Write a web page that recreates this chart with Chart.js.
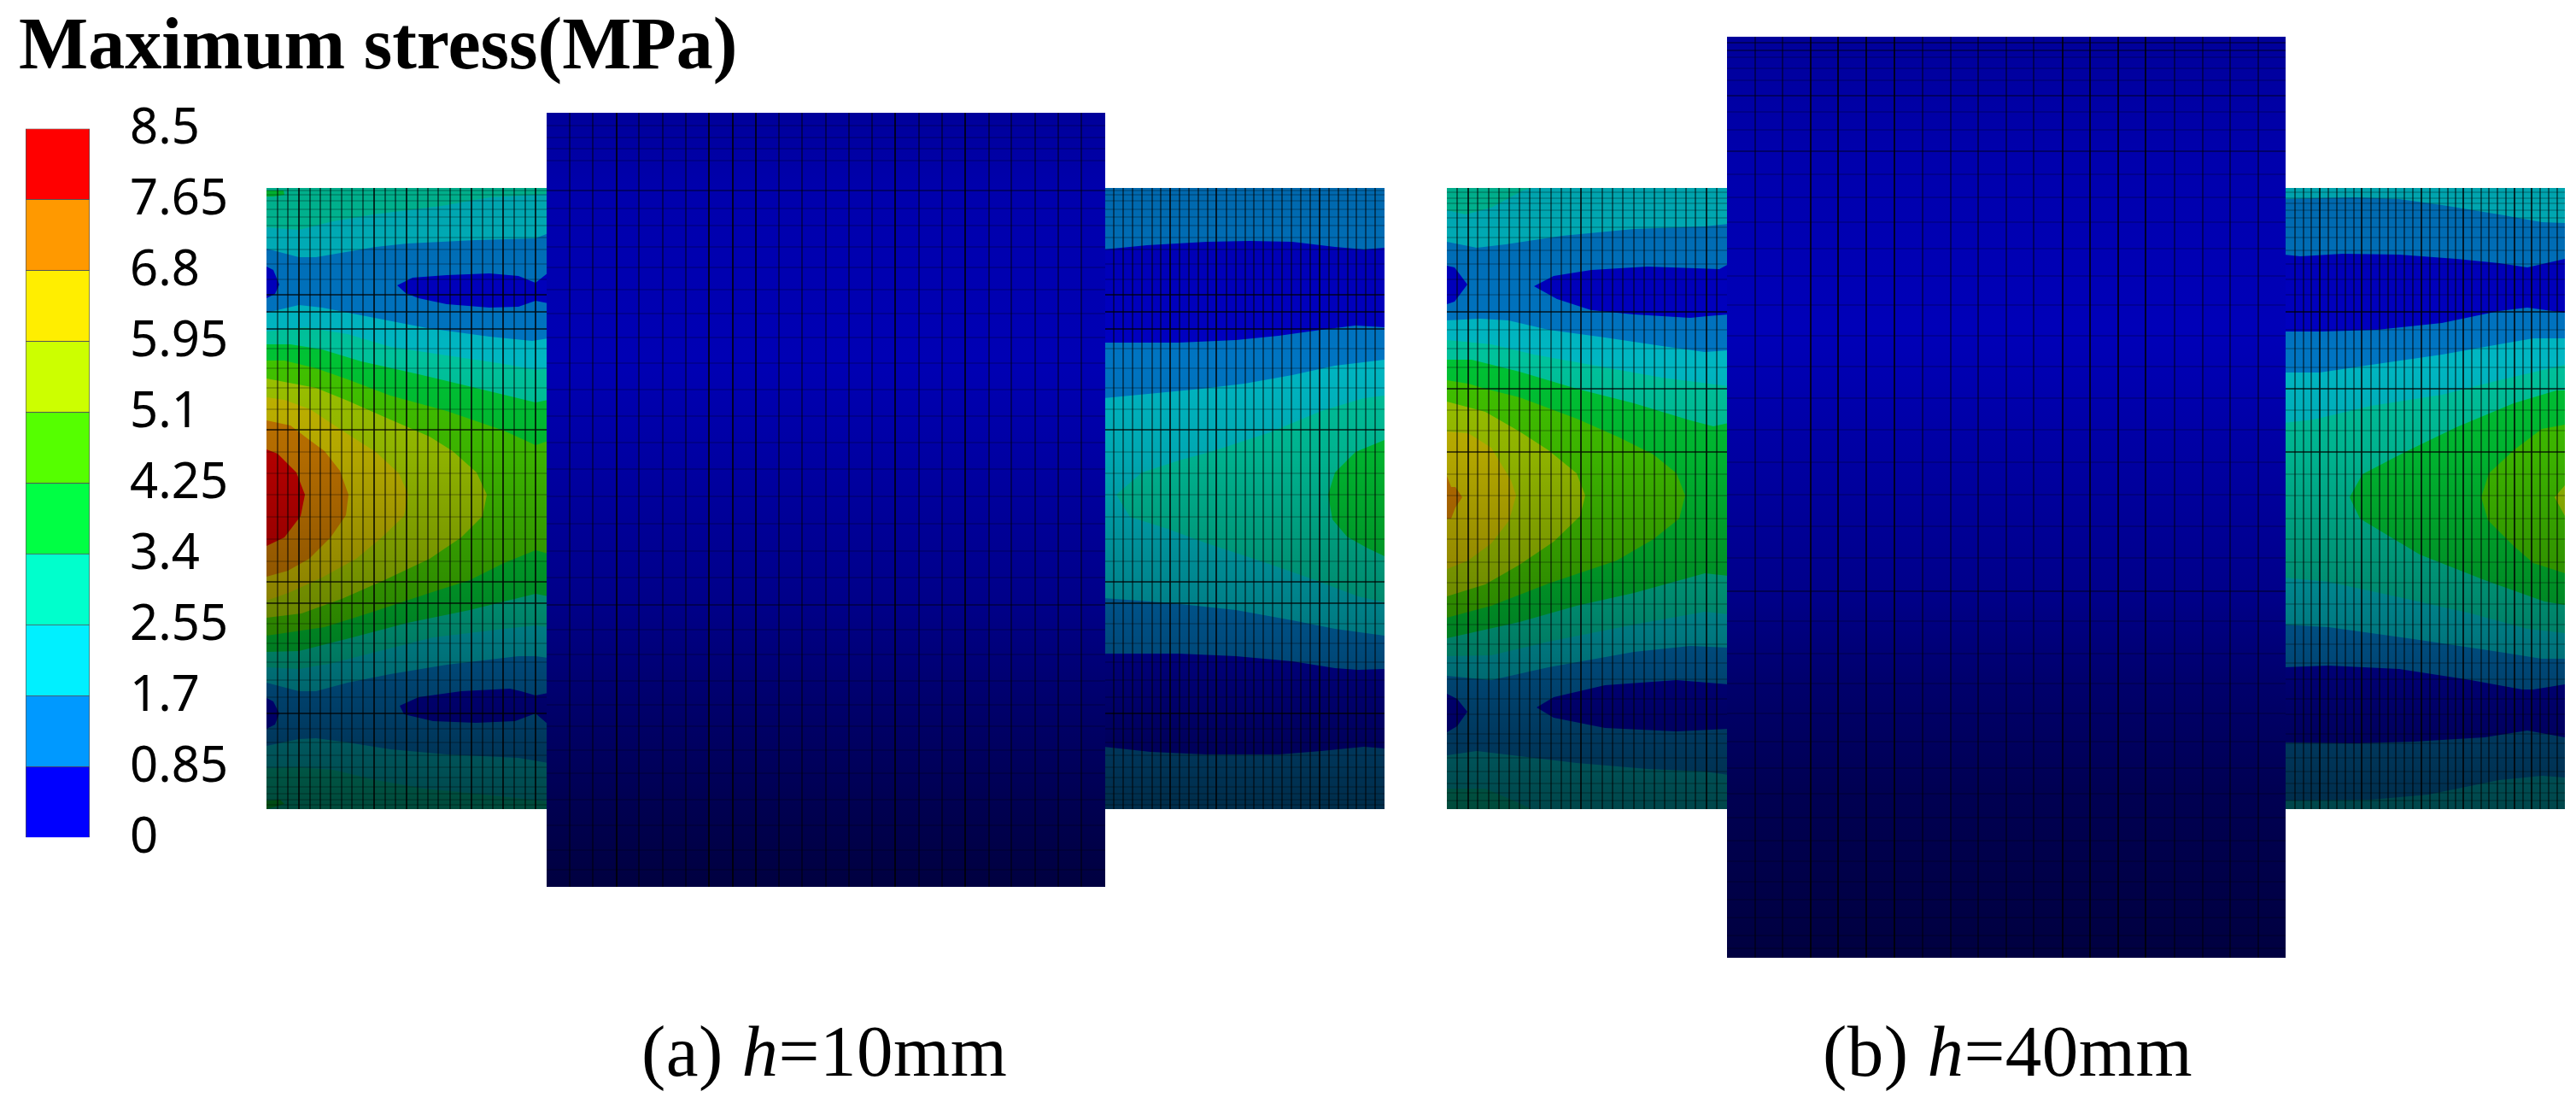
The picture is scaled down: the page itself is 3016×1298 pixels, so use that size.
<!DOCTYPE html>
<html lang="en">
  <head>
    <meta charset="UTF-8" />
    <title>Maximum stress</title>
    <style>
      html, body { margin: 0; padding: 0; background: #fff; width: 3016px; height: 1298px; overflow: hidden; }
      canvas { position: absolute; }
      .txt { position: absolute; font-family: "Liberation Serif", serif; color: #000; white-space: nowrap; line-height: 1; }
    </style>
  </head>
  <body>
    <div class="txt" style="left: 22px; top: 8px; font-size: 86px; font-weight: bold">Maximum stress(MPa)</div>
    <canvas id="legend" width="340" height="950" style="left: 0; top: 100px"></canvas>
    <canvas id="panelA" width="1309" height="906" style="left: 312px; top: 132px"></canvas>
    <canvas id="panelB" width="1309" height="1078" style="left: 1694px; top: 43px"></canvas>
    <div class="txt" style="left: 751px; top: 1188px; font-size: 85px; letter-spacing: 0.5px">(a) <i>h</i>=10mm</div>
    <div class="txt" style="left: 2134px; top: 1188px; font-size: 85px; letter-spacing: 0.5px">(b) <i>h</i>=40mm</div>
    <script src="https://cdn.jsdelivr.net/npm/chart.js"></script>
    <script>
      // colour scale, bottom to top
      const stressTicks = [0, 0.85, 1.7, 2.55, 3.4, 4.25, 5.1, 5.95, 6.8, 7.65, 8.5];
      const bandSizes = [0.85, 0.85, 0.85, 0.85, 0.85, 0.85, 0.85, 0.85, 0.85, 0.85];
      const bandColors = ["#0000ff", "#0099ff", "#00f0ff", "#00ffcc", "#00ff44", "#55ff00", "#ccff00", "#ffee00", "#ff9900", "#ff0000"];

      // panel coordinates: x along the shaft 0..1309, y down the shaft 0..727
      const baseLeft = [[0,0],[330,0],[330,727],[0,727]];
      const baseRight = [[980,0],[1309,0],[1309,727],[980,727]];

      // (a) left of the flange, contour lines top to bottom
      const aL1 = [[0,46],[38,49],[78,39],[125,31],[205,21],[261,11],[330,7]];
      const aL2 = [[0,71],[38,81],[58,81],[128,69],[165,65],[245,61],[315,59],[330,53]];
      const aL3 = [[0,146],[38,137],[65,140],[111,149],[188,164],[261,174],[311,179],[330,176]];
      const aL4 = [[0,168],[45,163],[95,171],[145,186],[211,196],[278,206],[315,213],[330,211]];
      const aL5 = [[0,183],[28,183],[65,189],[111,203],[178,218],[245,234],[315,251],[330,248]];
      const aL6 = [[0,202],[21,202],[58,211],[95,224],[145,243],[211,261],[278,284],[315,301],[330,296]];
      const aL7 = [[0,524],[68,514],[125,496],[191,474],[238,459],[278,439],[315,424],[330,428]];
      const aL8 = [[0,543],[38,542],[101,526],[165,509],[238,494],[278,484],[315,475],[330,478]];
      const aL9 = [[0,561],[38,563],[78,556],[128,543],[195,526],[278,516],[315,512],[330,514]];
      const aL10 = [[0,579],[38,589],[58,589],[95,579],[145,569],[211,558],[295,548],[315,548],[330,550]];
      const aL11 = [[0,653],[38,645],[58,644],[95,649],[145,657],[211,663],[295,667],[330,673]];
      const aL12 = [[0,679],[38,678],[78,681],[128,693],[185,703],[245,709],[330,718]];
      const aYGreen = [[0,223],[58,234],[95,249],[138,268],[191,291],[218,308],[246,333],[258,359],[253,384],[228,409],[191,434],[138,459],[88,481],[41,498],[0,503]];
      const aYellow = [[0,245],[21,248],[51,259],[95,288],[128,309],[155,334],[166,359],[161,384],[135,409],[105,434],[65,456],[28,473],[0,483]];
      const aOrange = [[0,272],[28,278],[45,291],[68,308],[86,331],[96,359],[93,383],[75,409],[50,434],[25,448],[0,455]];
      const aRed = [[0,306],[13,311],[35,333],[45,359],[40,384],[21,409],[0,419]];
      const aIsl1 = [[0,92],[8,96],[15,113],[10,124],[0,129]];
      const aBig1 = [[153,114],[171,105],[211,102],[261,100],[295,103],[315,111],[330,99],[330,135],[315,132],[295,139],[261,140],[211,136],[178,129],[163,123]];
      const aIsl2 = [[0,597],[8,601],[15,615],[10,628],[0,633]];
      const aBig2 = [[156,606],[178,596],[228,589],[285,586],[298,589],[315,594],[330,591],[330,628],[315,615],[291,624],[245,626],[195,624],[161,616]];
      const aGreenTop = [[0,3],[20,3],[21,8],[8,10],[0,10]];
      const aGreenBot = [[0,717],[16,716],[21,721],[11,724],[0,727]];

      // (a) right of the flange
      const aR1 = [[980,72],[1031,67],[1101,63],[1151,62],[1201,63],[1251,69],[1285,72],[1309,70]];
      const aR2 = [[980,181],[1068,181],[1135,178],[1185,173],[1235,166],[1275,161],[1309,163]];
      const aR3 = [[980,246],[1095,235],[1145,229],[1201,219],[1251,208],[1309,201]];
      const aRTeal = [[995,359],[1025,333],[1068,319],[1108,308],[1175,286],[1235,261],[1285,246],[1309,243],[1309,485],[1278,478],[1228,459],[1168,438],[1101,416],[1055,399],[1011,385]];
      const aRGreen = [[1243,359],[1251,333],[1275,309],[1309,295],[1309,431],[1288,421],[1265,408],[1248,388]];
      const aR4 = [[980,480],[1061,486],[1135,494],[1201,506],[1251,516],[1309,524]];
      const aR5 = [[980,545],[1068,545],[1135,548],[1201,554],[1251,562],[1278,564],[1309,563]];
      const aR6 = [[980,654],[1035,660],[1101,663],[1185,663],[1235,659],[1285,654],[1309,656]];

      // (b) left of the flange
      const bTealTop = [[0,0],[100,0],[89,3],[52,23],[22,31],[0,26]];
      const bL1 = [[0,63],[35,70],[69,66],[135,56],[219,48],[302,45],[330,42]];
      const bL2 = [[0,155],[39,153],[72,155],[119,166],[185,175],[252,185],[302,192],[330,190]];
      const bL3 = [[0,178],[52,183],[102,195],[185,210],[252,222],[330,232]];
      const bL4 = [[0,201],[29,201],[85,215],[152,235],[219,252],[285,272],[312,279],[330,275]];
      const bLime = [[0,225],[25,229],[45,235],[85,245],[152,270],[202,292],[242,312],[269,334],[279,360],[272,387],[242,411],[199,436],[119,463],[52,489],[0,503]];
      const bL5 = [[0,527],[85,508],[152,489],[219,474],[302,451],[330,454]];
      const bL6 = [[0,548],[52,547],[119,531],[219,511],[302,496],[330,499]];
      const bL7 = [[0,571],[52,576],[119,561],[219,543],[285,536],[330,538]];
      const bL8 = [[0,664],[35,659],[85,665],[152,673],[235,680],[302,683],[330,687]];
      const bL9 = [[0,703],[45,703],[85,720],[99,727]];
      const bYGreen = [[0,250],[45,262],[85,285],[119,307],[152,334],[162,360],[156,384],[125,414],[85,441],[45,464],[0,478]];
      const bYellow = [[0,285],[25,287],[52,304],[75,342],[81,360],[73,389],[52,416],[25,436],[0,446]];
      const bOrange = [[0,337],[5,350],[10,350],[18,362],[10,374],[5,387],[0,387]];
      const bIsl1 = [[0,91],[9,93],[24,113],[9,133],[0,136]];
      const bBig1 = [[102,115],[125,103],[169,96],[235,92],[319,95],[330,89],[330,148],[305,150],[285,152],[219,148],[169,143],[129,130]];
      const bIsl2 = [[0,592],[12,598],[24,613],[12,630],[0,637]];
      const bBig2 = [[105,608],[125,596],[185,582],[269,576],[330,581],[330,633],[269,636],[185,632],[125,620]];

      // (b) right of the flange
      const bR1 = [[980,13],[1015,12],[1065,11],[1115,13],[1165,20],[1232,31],[1282,40],[1309,41]];
      const bR2 = [[980,78],[999,80],[1049,77],[1115,78],[1182,83],[1232,88],[1265,93],[1309,83]];
      const bR3 = [[980,168],[1025,168],[1089,166],[1165,158],[1232,144],[1265,140],[1309,146]];
      const bR4 = [[980,216],[1022,216],[1082,207],[1165,195],[1232,183],[1272,176],[1309,176]];
      const bR5 = [[980,275],[1015,271],[1082,255],[1165,242],[1232,225],[1309,207]];
      const bRGreen = [[1057,362],[1072,335],[1122,309],[1182,280],[1249,252],[1299,237],[1309,237],[1309,488],[1285,484],[1215,459],[1139,429],[1069,387]];
      const bRLime = [[1211,362],[1220,334],[1249,307],[1282,282],[1309,277],[1309,451],[1272,439],[1249,419],[1219,389]];
      const bRYGreen = [[1297,362],[1309,348],[1309,384]];
      const bR6 = [[980,456],[1032,461],[1115,479],[1199,498],[1265,516],[1309,521]];
      const bR7 = [[980,511],[1032,514],[1132,528],[1232,543],[1282,551],[1309,551]];
      const bR8 = [[980,561],[1032,559],[1115,563],[1199,576],[1259,587],[1272,587],[1309,581]];
      const bR9 = [[980,649],[1065,650],[1132,648],[1215,643],[1265,635],[1309,643]];
      const bR10 = [[980,717],[1082,716],[1149,710],[1232,693],[1282,688],[1309,690]];

      // mesh lines
      const aMeshX = [13,25,38,51,63,75,88,100,113,126,139,151,164,177,189,201,215,227,240,253,265,277,290,303,315,992,1003,1014,1025,1037,1047,1058,1069,1080,1091,1102,1112,1124,1135,1146,1156,1167,1178,1189,1200,1211,1222,1233,1244,1255,1266,1276,1287,1298];
      const aMeshXStrong = [38,126,164,240,277,315,1058,1112,1233];
      const aMeshY = [3,8,15,25,34,44,58,72,89,107,125,145,165,188,211,234,259,283,309,334,359,385,411,437,461,486,510,533,555,576,596,615,633,649,664,678,690,701,709,716,722];
      const aMeshYStrong = [125,145,165,283,461,486,615];
      const aFlangeX = [355,382,410,436,464,491,518,546,573,600,627,655,682,709,736,764,791,818,846,872,900,927,954];
      const aFlangeY = [-73,-59,-46,-32,3,24,44,69,93,119,147,175,205,236,267,298,329,361,393,425,456,488,517,546,577,605,630,658,685,716,746,775,798];
      const aFlangeStrongX = [410,518,546,573,736,818];
      const aFlangeStrongY = [3,488];

      const bMeshX = [12,25,36,49,61,73,85,97,109,122,134,145,157,169,182,194,206,219,231,243,255,268,280,291,304,316,993,1003,1012,1022,1032,1042,1052,1062,1071,1082,1092,1102,1111,1121,1131,1141,1151,1162,1172,1181,1190,1200,1211,1220,1230,1240,1250,1260,1270,1280,1290,1300];
      const bMeshXStrong = [25,157,304,1022,1071,1141,1190,1250,1270];
      const bMeshY = [5,12,18,26,35,46,58,73,89,107,125,145,166,188,210,235,260,284,309,335,360,387,411,438,462,487,511,534,556,575,598,616,639,650,667,683,697,708,717];
      const bMeshYStrong = [145,235,309];
      const bFlangeX = [361,393,426,458,491,524,557,590,622,655,687,721,753,786,818,852,885,917,950];
      const bFlangeY = [-170,-161,-153,-140,-126,-108,-89,-68,-43,-16,11,40,71,103,137,173,209,246,283,321,359,396,433,472,507,545,580,615,648,679,709,737,764,788,812,833,854,875,890];
      const bFlangeStrongX = [426,458,491,524,721,753,786,818];
      const bFlangeStrongY = [-170,-161,-108,-43,472];

      // lighting of the model: how dark the shaft is at each y
      const shadeY = [0,110,200,312,460,526,650,727];
      const shadeAlpha = [0.32,0.27,0.24,0.30,0.44,0.50,0.64,0.71];
      // flange blue channel at each y
      const aFlangeShadeY = [-88,0,200,488,600,727,818];
      const aFlangeBlue = [154,172,180,136,108,80,64];
      const bFlangeShadeY = [-177,-40,165,472,580,709,901];
      const bFlangeBlue = [154,172,184,138,108,82,64];

      const toXY = (pts) => pts.map((p) => ({ x: p[0], y: p[1] }));

      function below(line) {
        // region under a contour line, closed along the bottom of the shaft
        return [...line, [line[line.length - 1][0], 727], [line[0][0], 727]];
      }

      function area(pts, color) {
        return { data: toXY(pts), backgroundColor: color, borderWidth: 0, showLine: true, fill: "shape", pointRadius: 0, tension: 0 };
      }

      function meshLines(xs, ys, x0, x1, y0, y1, color, width) {
        const pts = [];
        xs.forEach((x) => pts.push({ x: x, y: y0 }, { x: x, y: y1 }, { x: NaN, y: NaN }));
        ys.forEach((y) => pts.push({ x: x0, y: y }, { x: x1, y: y }, { x: NaN, y: NaN }));
        return { data: pts, borderColor: color, borderWidth: width, showLine: true, fill: false, pointRadius: 0, spanGaps: false };
      }

      function drawPanel(id, yMin, yMax, layers, mesh, flangeX, flangeYs, flangeShadeY, flangeBlue, strongFlangeX, strongFlangeY) {
        const canvas = document.getElementById(id);
        const ctx = canvas.getContext("2d");
        const range = yMax - yMin;
        const shade = ctx.createLinearGradient(0, 0, 0, canvas.height);
        shadeY.forEach((y, i) => shade.addColorStop((y - yMin) / range, "rgba(0,0,0," + shadeAlpha[i] + ")"));
        const blue = ctx.createLinearGradient(0, 0, 0, canvas.height);
        flangeShadeY.forEach((y, i) => blue.addColorStop((y - yMin) / range, "rgb(0,0," + flangeBlue[i] + ")"));

        const datasets = layers.map((l) => area(l[0], l[1]));
        datasets.push(area([[0,0],[1309,0],[1309,727],[0,727]], shade));
        datasets.push(...mesh);
        datasets.push(area([[328,yMin],[982,yMin],[982,yMax],[328,yMax]], blue));
        datasets.push(meshLines(flangeX, flangeYs, 328, 982, yMin, yMax, "rgba(0,0,0,0.35)", 1));
        datasets.push(meshLines(strongFlangeX, strongFlangeY, 328, 982, yMin, yMax, "rgba(0,0,0,0.5)", 1));
        datasets.forEach((d, i) => { d.order = datasets.length - i; });

        return new Chart(ctx, {
          type: "scatter",
          data: { datasets: datasets },
          options: {
            responsive: false,
            animation: false,
            devicePixelRatio: 1,
            events: [],
            layout: { padding: 0 },
            plugins: { legend: { display: false }, tooltip: { enabled: false } },
            scales: {
              x: { type: "linear", display: false, min: 0, max: 1309 },
              y: { type: "linear", display: false, reverse: true, min: yMin, max: yMax },
            },
          },
        });
      }

      const [cBlue, cSky, cCyan, cTeal, cGreen, cLime, cYGreen, cYellow, cOrange, cRed] = bandColors;

      drawPanel("panelA", -88, 818, [
        [baseLeft, cTeal], [below(aL1), cCyan], [below(aL2), cSky], [below(aL3), cCyan], [below(aL4), cTeal],
        [below(aL5), cGreen], [below(aL6), cLime], [below(aL7), cGreen], [below(aL8), cTeal], [below(aL9), cCyan],
        [below(aL10), cSky], [below(aL11), cCyan], [below(aL12), cTeal],
        [aYGreen, cYGreen], [aYellow, cYellow], [aOrange, cOrange], [aRed, cRed],
        [aIsl1, cBlue], [aBig1, cBlue], [aIsl2, cBlue], [aBig2, cBlue], [aGreenTop, cGreen], [aGreenBot, cGreen],
        [baseRight, cSky], [below(aR1), cBlue], [below(aR2), cSky], [below(aR3), cCyan],
        [aRTeal, cTeal], [aRGreen, cGreen], [below(aR4), cSky], [below(aR5), cBlue], [below(aR6), cSky],
      ], [
        meshLines(aMeshX, aMeshY, 0, 1309, 0, 727, "rgba(0,0,0,0.38)", 1),
        meshLines(aMeshXStrong, aMeshYStrong, 0, 1309, 0, 727, "rgba(0,0,0,0.7)", 1.5),
      ], aFlangeX, aFlangeY, aFlangeShadeY, aFlangeBlue, aFlangeStrongX, aFlangeStrongY);

      drawPanel("panelB", -177, 901, [
        [baseLeft, cCyan], [bTealTop, cTeal], [below(bL1), cSky], [below(bL2), cCyan], [below(bL3), cTeal],
        [below(bL4), cGreen], [bLime, cLime], [below(bL5), cTeal], [below(bL6), cCyan], [below(bL7), cSky],
        [below(bL8), cCyan], [below(bL9), cTeal],
        [bYGreen, cYGreen], [bYellow, cYellow], [bOrange, cOrange],
        [bIsl1, cBlue], [bBig1, cBlue], [bIsl2, cBlue], [bBig2, cBlue],
        [baseRight, cCyan], [below(bR1), cSky], [below(bR2), cBlue], [below(bR3), cSky], [below(bR4), cCyan],
        [below(bR5), cTeal], [bRGreen, cGreen], [bRLime, cLime], [bRYGreen, cYGreen],
        [below(bR6), cCyan], [below(bR7), cSky], [below(bR8), cBlue], [below(bR9), cSky], [below(bR10), cCyan],
      ], [
        meshLines(bMeshX, bMeshY, 0, 1309, 0, 727, "rgba(0,0,0,0.38)", 1),
        meshLines(bMeshXStrong, bMeshYStrong, 0, 1309, 0, 727, "rgba(0,0,0,0.7)", 1.5),
      ], bFlangeX, bFlangeY, bFlangeShadeY, bFlangeBlue, bFlangeStrongX, bFlangeStrongY);

      // colour bar with its tick labels
      new Chart(document.getElementById("legend"), {
        type: "bar",
        data: {
          labels: [""],
          datasets: bandSizes.map((v, i) => ({
            data: [v],
            backgroundColor: bandColors[i],
            borderColor: "#555",
            borderWidth: 1,
            barPercentage: 1,
            categoryPercentage: 1,
          })),
        },
        options: {
          responsive: false,
          animation: false,
          devicePixelRatio: 1,
          events: [],
          layout: { padding: { left: 30, top: 50.5, bottom: 70, right: 0 } },
          plugins: { legend: { display: false }, tooltip: { enabled: false } },
          scales: {
            x: { stacked: true, display: false },
            y: {
              stacked: true,
              position: "right",
              min: 0,
              max: 8.5,
              grid: { display: false, drawTicks: false },
              border: { display: false },
              afterBuildTicks: (scale) => { scale.ticks = stressTicks.map((v) => ({ value: v })); },
              afterFit: (scale) => { scale.paddingTop = 0; scale.paddingBottom = 0; scale.width = 235; },
              ticks: {
                autoSkip: false,
                padding: 47,
                labelOffset: 1,
                color: "#000",
                font: { family: "'Noto Sans'", size: 58 },
                callback: (v) => String(v),
              },
            },
          },
        },
      });
    </script>
  </body>
</html>
